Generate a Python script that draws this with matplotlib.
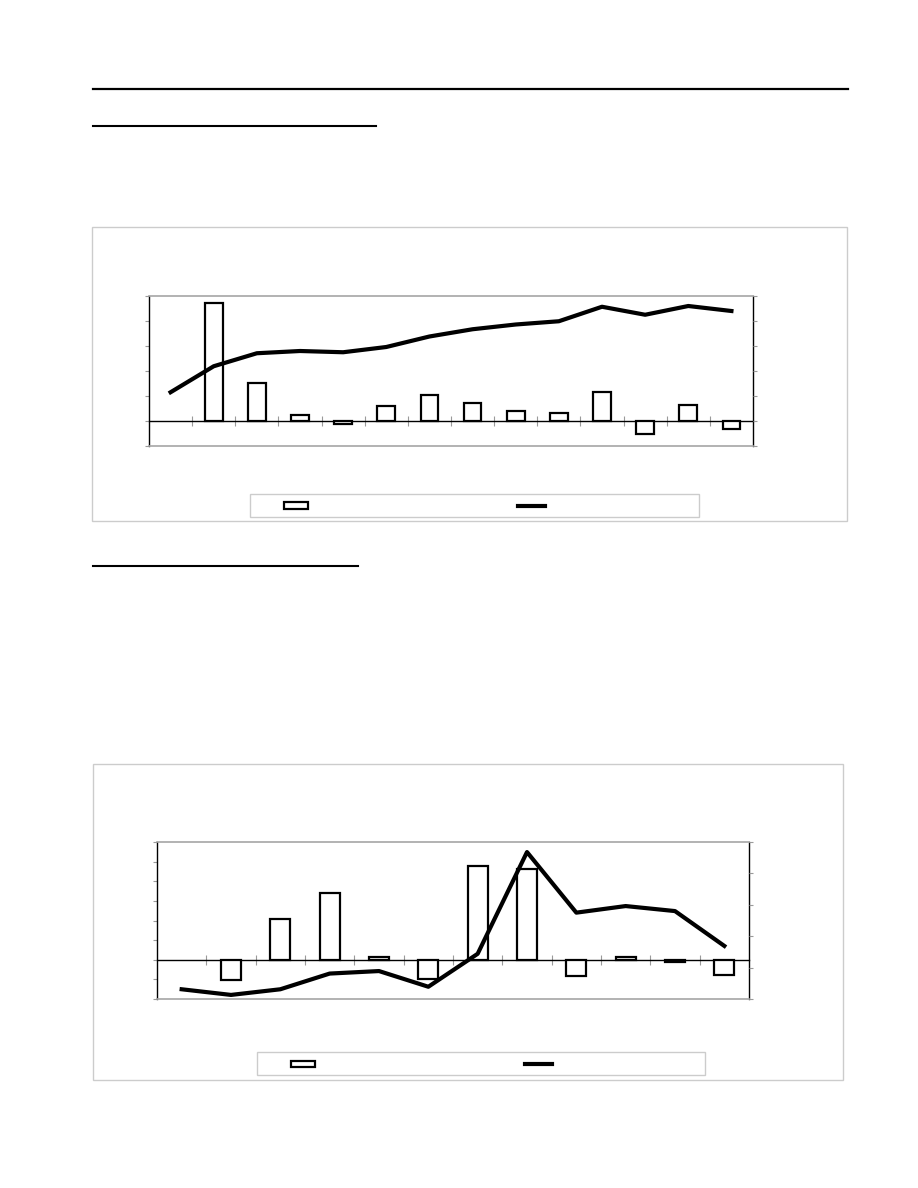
import numpy as np
import matplotlib.pyplot as plt
from matplotlib.patches import Rectangle
from matplotlib.lines import Line2D

# chart 1: 14 periods, bars start at the second period
bars1 = [np.nan, 4.73, 1.54, 0.25, -0.10, 0.62, 1.06, 0.73, 0.41, 0.31, 1.16, -0.52, 0.64, -0.31]
line1 = [2.15, 3.19, 3.71, 3.80, 3.75, 3.96, 4.38, 4.67, 4.86, 4.99, 5.57, 5.25, 5.60, 5.40]

# chart 2: 12 periods
bars2 = [np.nan, -1.04, 2.08, 3.38, 0.15, -1.00, 4.76, 4.60, -0.82, 0.15, -0.10, -0.79]
line2 = [0.31, 0.13, 0.31, 0.81, 0.89, 0.39, 1.44, 4.68, 2.75, 2.96, 2.80, 1.69]

W, H = 918, 1188
fig = plt.figure(figsize=(W / 100, H / 100), dpi=100)
fig.patch.set_facecolor('white')

TICK = '#9a9a9a'
FRAME = '#a6a6a6'
BOX = '#cccccc'


def fx(px):
    return px / W


def fy(py):
    return 1 - py / H


def hline(x0, x1, y, lw):
    fig.add_artist(Line2D([fx(x0), fx(x1)], [fy(y), fy(y)], color='black', lw=lw))


def panel(box, axbox, legbox, bars, line, lylim, rylim):
    # outer chart border
    x0, y0, x1, y1 = box
    fig.add_artist(Rectangle((fx(x0), fy(y1)), fx(x1 - x0), (y1 - y0) / H,
                             transform=fig.transFigure, fill=False, ec=BOX, lw=1))
    a0, b0, a1, b1 = axbox
    ax = fig.add_axes([fx(a0), fy(b1), fx(a1 - a0), (b1 - b0) / H])
    n = len(line)
    x = np.arange(n)
    ax.bar(x, bars, width=0.41, color='white', edgecolor='black', lw=1.6, zorder=3)
    ax.set_xlim(-0.5, n - 0.5)
    ax.set_ylim(*lylim)
    ax.set_yticks(np.arange(lylim[0], lylim[1] + 1))
    ax.set_xticks([])
    ax.tick_params(axis='y', direction='out', length=3, color=TICK, labelleft=False)
    for side, s in ax.spines.items():
        if side in ('left', 'right'):
            s.set_color('black')
            s.set_linewidth(1)
        else:
            s.set_color(FRAME)
            s.set_linewidth(1.2)
    zero = -lylim[0] / (lylim[1] - lylim[0])
    sec = ax.secondary_xaxis(zero)
    sec.set_xticks(np.arange(n - 1) + 0.5)
    sec.tick_params(direction='inout', length=6.5, width=0.8, color=TICK,
                    labelbottom=False, labeltop=False)
    sec.spines['bottom'].set_color('black')
    sec.spines['top'].set_color('black')
    sec.spines['bottom'].set_linewidth(1)

    ax2 = ax.twinx()
    ax2.plot(x, line, color='black', lw=3, zorder=4)
    ax2.set_ylim(*rylim)
    ax2.set_yticks(np.arange(rylim[0], rylim[1] + 1))
    ax2.tick_params(axis='y', direction='out', length=3, color=TICK, labelright=False)
    for s in ax2.spines.values():
        s.set_visible(False)

    # legend box, labels left blank as in the reference
    l0, m0, l1, m1 = legbox
    fig.add_artist(Rectangle((fx(l0), fy(m1)), fx(l1 - l0), (m1 - m0) / H,
                             transform=fig.transFigure, fill=False, ec=BOX, lw=1))
    ym = (m0 + m1) / 2
    fig.add_artist(Rectangle((fx(l0 + 34), fy(ym + 3)), fx(24), 6 / H,
                             transform=fig.transFigure, fc='white', ec='black', lw=1.6))
    fig.add_artist(Line2D([fx(l0 + 268), fx(l0 + 295)], [fy(ym), fy(ym)],
                          color='black', lw=3))
    return ax


# page rules and heading underlines
hline(93, 848, 89, 1.6)
hline(93, 376, 126, 1.5)
hline(93, 358, 566, 1.5)

panel((92, 227, 847, 521), (149, 296, 753, 446), (250, 494, 699, 517),
      bars1, line1, (-1, 5), (0, 6))
panel((93, 764, 843, 1080), (157, 842, 749, 999), (257, 1052, 705, 1075),
      bars2, line2, (-2, 6), (0, 5))

fig.savefig('out.png', dpi=100)
